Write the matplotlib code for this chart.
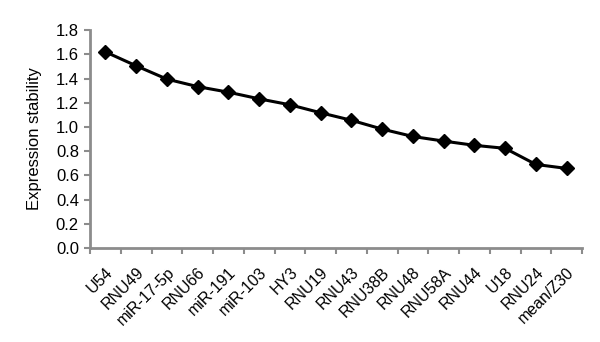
import matplotlib
matplotlib.use("Agg")
import matplotlib.pyplot as plt

plt.rcParams['font.family'] = ['Liberation Sans', 'DejaVu Sans']

# Datos
genes = ['U54', 'RNU49', 'miR-17-5p', 'RNU66', 'miR-191', 'miR-103', 'HY3',
         'RNU19', 'RNU43', 'RNU38B', 'RNU48', 'RNU58A', 'RNU44', 'U18',
         'RNU24', 'mean/Z30']
estabilidad = [1.62, 1.505, 1.395, 1.333, 1.287, 1.232, 1.183, 1.117,
               1.055, 0.982, 0.921, 0.883, 0.848, 0.823, 0.690, 0.657]

fig = plt.figure(figsize=(6, 3.42), dpi=100)
ax = fig.add_axes([0.15, 0.275, 0.82, 0.637])

x = list(range(len(genes)))
ax.plot(x, estabilidad, color='black', linewidth=2.2, marker='D', markersize=7)

gris = '#8c8c8c'
ax.set_xlim(-0.5, len(genes) - 0.5)
ax.set_ylim(0, 1.8)
ax.set_yticks([i * 0.2 for i in range(10)])
ax.set_yticklabels([f'{i * 0.2:.1f}' for i in range(10)], fontsize=12)
ax.set_xticks([i - 0.5 for i in range(len(genes) + 1)])
ax.set_xticklabels([])
ax.set_xticks(x, minor=True)
ax.set_xticklabels(genes, minor=True, rotation=45, ha='right',
                   rotation_mode='anchor', fontsize=11.5)
ax.tick_params(axis='x', which='minor', length=0, pad=12)
ax.tick_params(axis='both', which='major', direction='out', length=4,
               width=1.5, color=gris)
ax.tick_params(axis='y', pad=4)

for lado in ['top', 'right']:
    ax.spines[lado].set_visible(False)
for lado in ['left', 'bottom']:
    ax.spines[lado].set_color(gris)
    ax.spines[lado].set_linewidth(2)

ax.set_ylabel('Expression stability', fontsize=12, labelpad=10)

fig.savefig('out.png', dpi=100)
